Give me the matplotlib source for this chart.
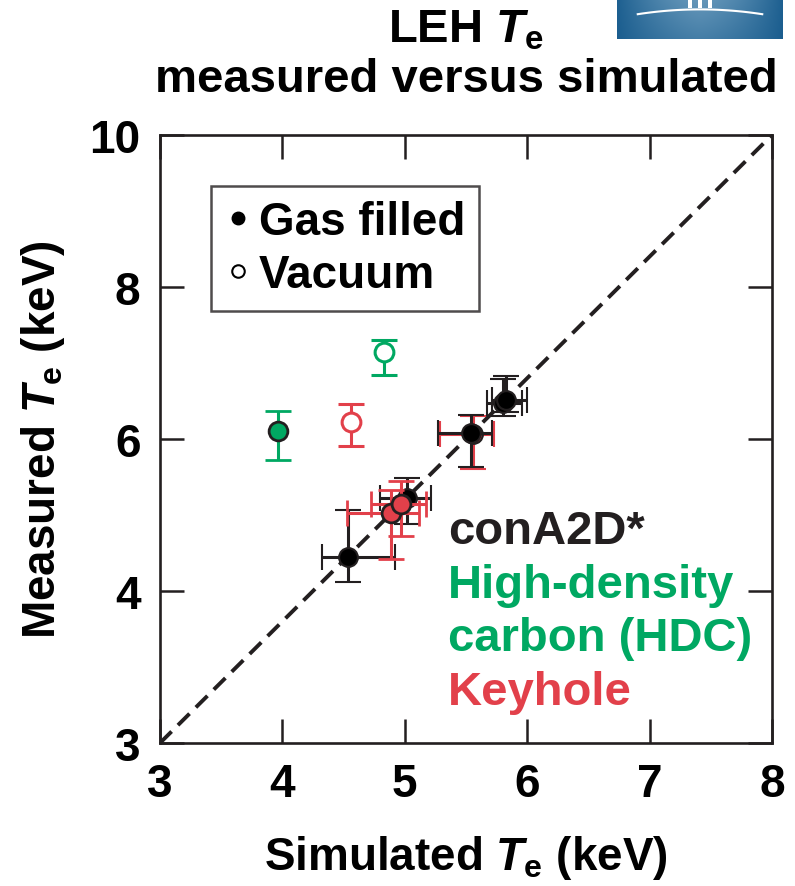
import matplotlib
matplotlib.use("Agg")
import matplotlib.pyplot as plt
import numpy as np
from matplotlib.lines import Line2D
from matplotlib.patches import Rectangle

plt.rcParams['font.family'] = ['Liberation Sans', 'DejaVu Sans']
plt.rcParams['font.weight'] = 'bold'
plt.rcParams['axes.labelweight'] = 'bold'
plt.rcParams['mathtext.fontset'] = 'custom'
plt.rcParams['mathtext.rm'] = 'Liberation Sans:bold'
plt.rcParams['mathtext.it'] = 'Liberation Sans:bold:italic'
plt.rcParams['mathtext.bf'] = 'Liberation Sans:bold'

BLACK = '#231f20'
GREEN = '#00a862'
RED = '#e2404a'

# ---- data ----
x_ticks = [3, 4, 5, 6, 7, 8]
x_tick_labels = ['3', '4', '5', '6', '7', '8']
y_ticks = [2, 4, 6, 8, 10]
y_tick_labels = ['3', '4', '6', '8', '10']

# conA2D* gas filled (black)
black_x = [4.54, 5.02, 5.54, 5.80, 5.83]
black_y = [4.45, 5.22, 6.08, 6.48, 6.51]
black_xerr_lo = [0.22, 0.22, 0.27, 0.13, 0.12]
black_xerr_hi = [0.38, 0.19, 0.17, 0.16, 0.17]
black_yerr_lo = [0.33, 0.34, 0.45, 0.18, 0.16]
black_yerr_hi = [0.61, 0.27, 0.24, 0.31, 0.32]

# Keyhole gas filled (red, filled)
red_x = [4.89, 4.97]
red_y = [5.03, 5.15]
red_xerr_lo = [0.36, 0.25]
red_xerr_hi = [0.23, 0.20]
red_yerr_lo = [0.61, 0.42]
red_yerr_hi = [0.30, 0.30]

# Keyhole point hidden behind a conA2D* point
red_hidden_x = [5.555]
red_hidden_y = [6.065]
red_hidden_xerr_lo = [0.27]
red_hidden_xerr_hi = [0.17]
red_hidden_yerr_lo = [0.46]
red_hidden_yerr_hi = [0.24]

# HDC gas filled (green, filled)
green_x = [3.96]
green_y = [6.11]
green_yerr_lo = [0.39]
green_yerr_hi = [0.26]

# Vacuum (open)
green_open_x = [4.83]
green_open_y = [7.14]
green_open_yerr_lo = [0.30]
green_open_yerr_hi = [0.16]

red_open_x = [4.56]
red_open_y = [6.22]
red_open_yerr_lo = [0.31]
red_open_yerr_hi = [0.24]

legend_labels = ['Gas filled', 'Vacuum']
group_labels = ['conA2D*', 'High-density', 'carbon (HDC)', 'Keyhole']
group_colors = [BLACK, GREEN, GREEN, RED]

# ---- figure ----
fig = plt.figure(figsize=(7.95, 8.87), dpi=100)
W, H = 795, 887
ax = fig.add_axes([160 / W, 1 - 744 / H, 612 / W, 608 / H])

ax.set_xlim(3, 8)
ax.set_ylim(2, 10)

# diagonal reference line
ax.plot([ax.get_xlim()[0], ax.get_xlim()[1]], [ax.get_ylim()[0], ax.get_ylim()[1]],
        color=BLACK, lw=2.8, ls=(0, (4.2, 2.3)), zorder=1)

eb_kw = dict(elinewidth=2.2, capthick=2.2, capsize=9.5, ms=13.5, ls='none')

ax.errorbar(red_hidden_x, red_hidden_y,
            xerr=[red_hidden_xerr_lo, red_hidden_xerr_hi],
            yerr=[red_hidden_yerr_lo, red_hidden_yerr_hi],
            fmt='o', color=RED, mfc=RED, mec=BLACK, mew=1.5, zorder=2, **eb_kw)

ax.errorbar(black_x, black_y, xerr=[black_xerr_lo, black_xerr_hi],
            yerr=[black_yerr_lo, black_yerr_hi],
            fmt='o', color=BLACK, mfc='black', mec=BLACK, mew=1.5, zorder=3, **eb_kw)

ax.errorbar(red_x, red_y, xerr=[red_xerr_lo, red_xerr_hi],
            yerr=[red_yerr_lo, red_yerr_hi],
            fmt='o', color=RED, mfc=RED, mec=BLACK, mew=2.0, zorder=4, **eb_kw)

ax.errorbar(green_x, green_y, yerr=[green_yerr_lo, green_yerr_hi],
            fmt='o', color=GREEN, mfc=GREEN, mec=BLACK, mew=2.0, zorder=4, **eb_kw)

ax.errorbar(green_open_x, green_open_y, yerr=[green_open_yerr_lo, green_open_yerr_hi],
            fmt='o', color=GREEN, mfc='white', mec=GREEN, mew=2.2, zorder=4, **eb_kw)

ax.errorbar(red_open_x, red_open_y, yerr=[red_open_yerr_lo, red_open_yerr_hi],
            fmt='o', color=RED, mfc='white', mec=RED, mew=2.2, zorder=4, **eb_kw)

# axes styling
ax.set_xticks(x_ticks)
ax.set_xticklabels(x_tick_labels)
ax.set_yticks(y_ticks)
ax.set_yticklabels(y_tick_labels)
ax.tick_params(direction='in', length=17, width=1.8, color=BLACK,
               top=True, right=True, labelsize=33, pad=14)
for sp in ax.spines.values():
    sp.set_linewidth(1.9)
    sp.set_color(BLACK)

ax.set_xlabel(r'Simulated $T_{\rm e}$ (keV)', fontsize=33, labelpad=19, fontweight='bold')
ax.set_ylabel(r'Measured $T_{\rm e}$ (keV)', fontsize=33, labelpad=16, fontweight='bold')

# legend
handles = [Line2D([], [], marker='o', ls='none', color='black', mfc='black', ms=9),
           Line2D([], [], marker='o', ls='none', color='black', mfc='white', mew=1.5, ms=9)]
leg = ax.legend(handles, legend_labels, loc='upper left',
                bbox_to_anchor=(0.083, 0.916), fontsize=33, frameon=True,
                fancybox=False, edgecolor=BLACK, handlelength=0.6,
                handletextpad=0.15, borderpad=0.3, labelspacing=0.2,
                borderaxespad=0.0)
leg.get_frame().set_linewidth(1.8)

# group text
y0 = 0.348
for i, (lab, col) in enumerate(zip(group_labels, group_colors)):
    ax.text(0.47, y0 - i * 0.088, lab, color=col, fontsize=34,
            transform=ax.transAxes, ha='left', va='center')

# title
fig.text(466 / W, 1 - 30 / H, r'LEH $T_{\rm e}$', ha='center', va='center', fontsize=34)
fig.text(466 / W, 1 - 80 / H, 'measured versus simulated', ha='center', va='center', fontsize=34)

# logo fragment (top right)
lax = fig.add_axes([617 / W, 1 - 40 / H, 166 / W, 40 / H])
gx = np.linspace(-1, 1, 200)
gy = np.linspace(0, 1, 40)
GX, GY = np.meshgrid(gx, gy)
t = np.clip(1 - np.abs(GX) ** 1.5 * 0.9, 0, 1) * (0.6 + 0.4 * GY)
c0 = np.array([22, 90, 140]) / 255
c1 = np.array([100, 150, 185]) / 255
img = c0[None, None, :] + (c1 - c0)[None, None, :] * t[:, :, None]
lax.imshow(img, extent=(-1, 1, 0, 1), aspect='auto', origin='lower')
arc_x = np.linspace(-0.75, 0.75, 100)
lax.plot(arc_x, 0.62 + 0.12 * (1 - (arc_x / 0.75) ** 2), color='white', lw=1.5)
for bx in (-0.12, 0.0, 0.12):
    lax.add_patch(Rectangle((bx - 0.02, 0.78), 0.04, 0.22, color='white', lw=0))
lax.set_xlim(-1, 1)
lax.set_ylim(0, 1)
lax.axis('off')

fig.savefig('out.png', dpi=100)
